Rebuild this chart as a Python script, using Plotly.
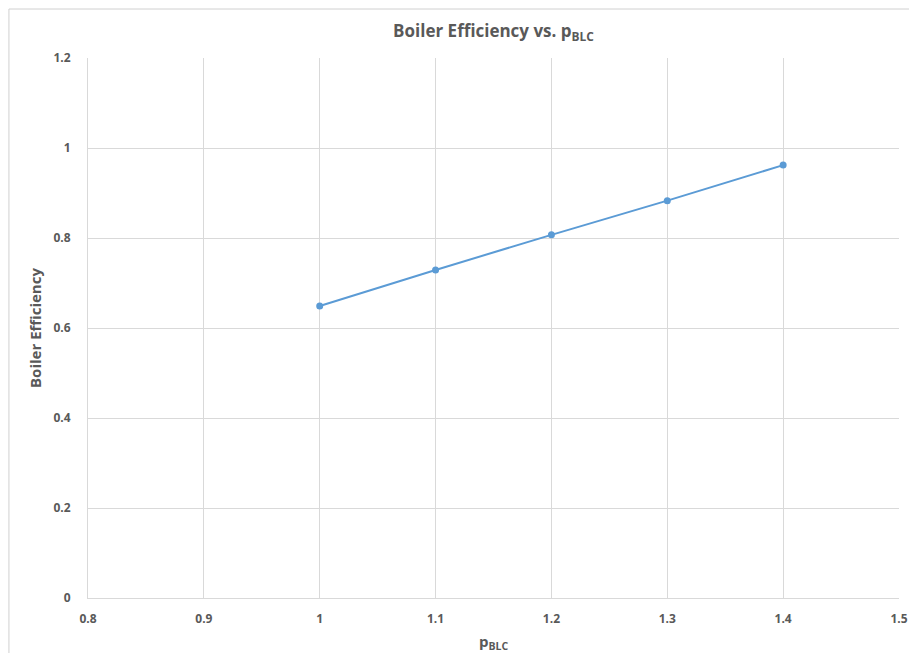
import plotly.graph_objects as go

# pressure ratio p_BLC vs boiler efficiency
p_blc = [1.0, 1.1, 1.2, 1.3, 1.4]
boiler_eff = [0.649, 0.729, 0.807, 0.883, 0.962]

x_ticks = [0.8, 0.9, 1.0, 1.1, 1.2, 1.3, 1.4, 1.5]
x_tick_text = ["0.8", "0.9", "1", "1.1", "1.2", "1.3", "1.4", "1.5"]
y_ticks = [0, 0.2, 0.4, 0.6, 0.8, 1.0, 1.2]
y_tick_text = ["0", "0.2", "0.4", "0.6", "0.8", "1", "1.2"]

GREY = "#595959"
GRID = "#d9d9d9"
BLUE = "#5b9bd5"
FONT = "Open Sans, Lato, sans-serif"

fig = go.Figure()
fig.add_trace(
    go.Scatter(
        x=p_blc,
        y=boiler_eff,
        mode="lines+markers",
        line=dict(color=BLUE, width=2),
        marker=dict(color=BLUE, size=7),
        showlegend=False,
    )
)

# the page body has an 8px margin all round, keep the figure inside the window
fig.update_layout(
    width=901,
    height=645,
    margin=dict(l=80, r=10, t=50, b=55),
    paper_bgcolor="white",
    plot_bgcolor="white",
    font=dict(family=FONT, color=GREY),
    title=dict(
        text="<b>Boiler Efficiency vs. p<sub>BLC</sub></b>",
        x=0.5,
        xref="paper",
        xanchor="center",
        y=0.964,
        yanchor="middle",
        font=dict(size=17, color=GREY, family=FONT),
    ),
    xaxis=dict(
        range=[0.8, 1.5],
        tickvals=x_ticks,
        ticktext=x_tick_text,
        showgrid=True,
        gridcolor=GRID,
        gridwidth=1,
        zeroline=False,
        showline=True,
        linecolor=GRID,
        ticks="",
        ticklabelstandoff=10,
        automargin=False,
        tickfont=dict(size=12, color=GREY, family=FONT, weight="bold"),
        title=dict(text="<b>p<sub>BLC</sub></b>", font=dict(size=15, color=GREY), standoff=10),
    ),
    yaxis=dict(
        range=[0, 1.2],
        tickvals=y_ticks,
        ticktext=y_tick_text,
        showgrid=True,
        gridcolor=GRID,
        gridwidth=1,
        zeroline=False,
        showline=True,
        linecolor=GRID,
        ticks="",
        ticklabelstandoff=14,
        automargin=False,
        tickfont=dict(size=12, color=GREY, family=FONT, weight="bold"),
        title=dict(text="<b>Boiler Efficiency</b>", font=dict(size=15, color=GREY), standoff=8),
    ),
)

# thin frame around the chart area (the figure was pasted into a document)
fig.add_shape(
    type="rect",
    xref="paper",
    yref="paper",
    x0=-0.0975,
    x1=1.05,
    y0=-0.2,
    y1=1.0907,
    line=dict(color="#d0d0d0", width=1),
    layer="below",
)

fig.write_html("out.html")
